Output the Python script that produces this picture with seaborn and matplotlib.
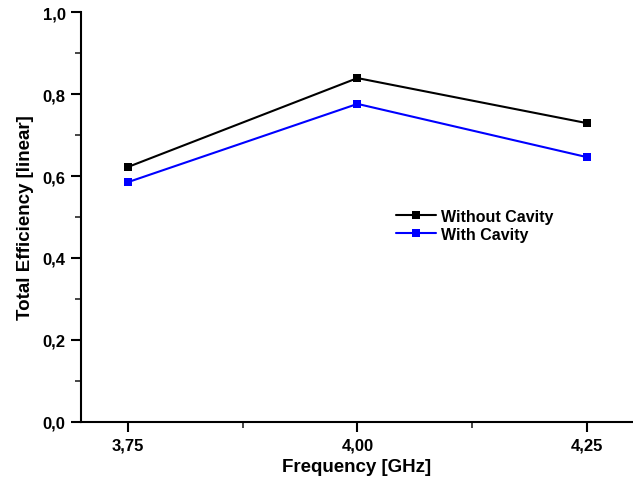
import matplotlib
matplotlib.use("Agg")
import matplotlib.pyplot as plt
import seaborn as sns
import pandas as pd
from matplotlib.ticker import MultipleLocator, FixedLocator, FuncFormatter

freq = [3.75, 4.00, 4.25]
without_cavity = [0.622, 0.839, 0.729]
with_cavity = [0.585, 0.776, 0.646]
series_names = ["Without Cavity", "With Cavity"]
colors = ["#000000", "#0000ff"]

df = pd.DataFrame({
    "freq": freq * 2,
    "eff": without_cavity + with_cavity,
    "series": [series_names[0]] * 3 + [series_names[1]] * 3,
})

sns.set_style("white")
plt.rcParams['font.family'] = ['Liberation Sans', 'DejaVu Sans']
plt.rcParams['font.weight'] = 'bold'
plt.rcParams['text.color'] = 'black'
plt.rcParams['axes.labelcolor'] = 'black'

fig = plt.figure(figsize=(6.33, 4.85), dpi=100)
ax = fig.add_axes([0.128, 0.128, 0.872, 0.845])

sns.lineplot(data=df, x="freq", y="eff", hue="series", palette=colors,
             marker="s", markersize=6, markeredgewidth=0, linewidth=1.5, ax=ax)

ax.set_xlim(3.699, 4.300)
ax.set_ylim(0, 1.0)
ax.xaxis.set_major_locator(FixedLocator(freq))
ax.xaxis.set_minor_locator(FixedLocator([3.875, 4.125]))
ax.yaxis.set_major_locator(MultipleLocator(0.2))
ax.yaxis.set_minor_locator(MultipleLocator(0.1))
ax.xaxis.set_major_formatter(FuncFormatter(lambda v, p: f"{v:.2f}".replace('.', ',')))
ax.yaxis.set_major_formatter(FuncFormatter(lambda v, p: f"{v:.1f}".replace('.', ',')))

for s in ["top", "right"]:
    ax.spines[s].set_visible(False)
for s in ["left", "bottom"]:
    ax.spines[s].set_linewidth(1.5)
    ax.spines[s].set_color("black")

ax.tick_params(axis="both", which="major", direction="out", length=7, width=1.5,
               labelsize=12, colors="black", left=True, bottom=True, pad=4)
ax.tick_params(axis="both", which="minor", direction="out", length=4, width=1.2,
               left=True, bottom=True)
for lab in ax.get_xticklabels() + ax.get_yticklabels():
    lab.set_fontweight("bold")

ax.set_xlabel("Frequency [GHz]", fontsize=13.5, fontweight="bold", labelpad=4, color="black")
ax.set_ylabel("Total Efficiency [linear]", fontsize=13.5, fontweight="bold", labelpad=6, color="black")

leg = ax.legend(loc="upper left", bbox_to_anchor=(0.545, 0.555), frameon=False,
                prop={"weight": "bold", "size": 11.5}, handlelength=2.5,
                handletextpad=0.3, labelspacing=0.2)
for t in leg.get_texts():
    t.set_color("black")

fig.savefig("out.png", dpi=100)
